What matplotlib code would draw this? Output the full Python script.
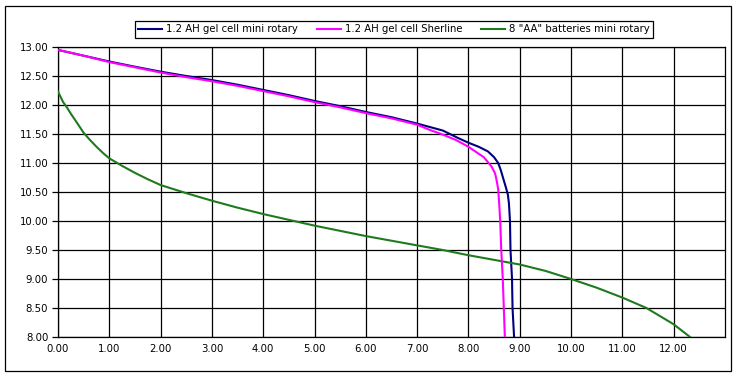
import matplotlib.pyplot as plt
from matplotlib.patches import Rectangle

# discharge curves (hours vs volts)
gel_rotary_x = [0, 0.5, 1, 1.5, 2, 2.5, 3, 3.5, 4, 4.5, 5, 5.5, 6, 6.5, 7, 7.25, 7.5,
                7.64, 7.8, 8.0, 8.2, 8.38, 8.5, 8.58, 8.63, 8.67, 8.71, 8.74, 8.77,
                8.79, 8.81, 8.82, 8.85, 8.86, 8.89]
gel_rotary_y = [12.95, 12.85, 12.75, 12.66, 12.575, 12.50, 12.43, 12.35, 12.26, 12.17,
                12.07, 11.98, 11.88, 11.79, 11.68, 11.62, 11.56, 11.50, 11.43, 11.35,
                11.28, 11.20, 11.10, 11.00, 10.88, 10.76, 10.64, 10.55, 10.45, 10.30,
                10.00, 9.50, 9.00, 8.50, 8.00]

gel_sherline_x = [0, 0.5, 1, 1.5, 2, 2.5, 3, 3.5, 4, 4.5, 5, 5.5, 6, 6.5, 7, 7.25, 7.5,
                  7.75, 8.0, 8.2, 8.3, 8.45, 8.52, 8.55, 8.58, 8.6, 8.62, 8.64, 8.67,
                  8.69, 8.71]
gel_sherline_y = [12.95, 12.85, 12.74, 12.65, 12.56, 12.48, 12.41, 12.33, 12.24, 12.15,
                  12.05, 11.96, 11.86, 11.77, 11.66, 11.57, 11.49, 11.40, 11.28, 11.16,
                  11.10, 10.94, 10.82, 10.70, 10.55, 10.30, 10.00, 9.50, 9.00, 8.50,
                  8.00]

aa_x = [0, 0.05, 0.1, 0.18, 0.25, 0.38, 0.5, 0.62, 0.75, 0.88, 1, 1.25, 1.5, 1.75, 2,
        2.5, 3, 3.5, 4, 4.5, 5, 5.5, 6, 6.5, 7, 7.5, 8, 8.5, 9, 9.5, 10, 10.5, 11,
        11.47, 12, 12.32]
aa_y = [12.23, 12.14, 12.05, 11.95, 11.85, 11.68, 11.52, 11.40, 11.28, 11.17, 11.08,
        10.95, 10.83, 10.72, 10.62, 10.48, 10.35, 10.23, 10.12, 10.02, 9.92, 9.83,
        9.74, 9.66, 9.58, 9.50, 9.41, 9.33, 9.25, 9.14, 9.00, 8.85, 8.68, 8.50, 8.22,
        8.00]

labels = ['1.2 AH gel cell mini rotary', '1.2 AH gel cell Sherline',
          '8 "AA" batteries mini rotary']

plt.rcParams['font.family'] = ['DejaVu Sans']
plt.rcParams['font.size'] = 7.3

fig = plt.figure(figsize=(7.41, 3.77), dpi=100)
ax = fig.add_axes([0.0783, 0.1061, 0.9, 0.7692])

l1, = ax.plot(gel_rotary_x, gel_rotary_y, color='#000080', lw=1.5, zorder=3)
l2, = ax.plot(gel_sherline_x, gel_sherline_y, color='#ff00ff', lw=1.5, zorder=4)
l3, = ax.plot(aa_x, aa_y, color='#1f7a1f', lw=1.5, zorder=3)

ax.set_xlim(0, 13)
ax.set_ylim(8, 13)
ax.set_xticks([i for i in range(13)])
ax.set_yticks([8 + 0.5 * i for i in range(11)])
ax.set_xticklabels(['%.2f' % i for i in range(13)])
ax.set_yticklabels(['%.2f' % (8 + 0.5 * i) for i in range(11)])
ax.grid(True, color='black', lw=0.9)
ax.tick_params(axis='y', length=4, width=0.9, pad=3)
ax.tick_params(axis='x', length=0, pad=5)
for s in ax.spines.values():
    s.set_linewidth(0.9)

fig.legend([l1, l2, l3], labels, ncol=3, loc='center',
           bbox_to_anchor=(0.5317, 0.9218), frameon=True, fancybox=False,
           edgecolor='black', framealpha=1, handlelength=2.4, handletextpad=0.4,
           columnspacing=1.8, borderpad=0.35)
fig.legends[0].get_frame().set_linewidth(0.9)

fig.patches.append(Rectangle((5 / 741, 1 - 371 / 377), 726 / 741, 365 / 377,
                             transform=fig.transFigure, fill=False,
                             edgecolor='black', lw=0.9))

plt.savefig('out.png', dpi=100)
